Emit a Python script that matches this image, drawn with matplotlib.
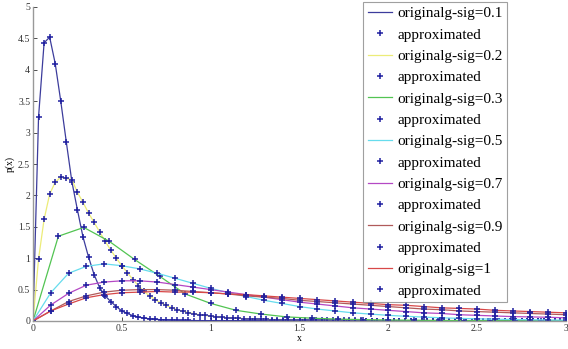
import numpy as np
import matplotlib
matplotlib.use("Agg")
import matplotlib.pyplot as plt

# ---- data ----
x_fine = np.linspace(0, 3, 97)          # grid of sig=0.1 / sig=0.2 curves
sig01 = [0, 3.25, 4.43, 4.52, 4.10, 3.50, 2.85, 2.22, 1.77, 1.34,
         1.02, 0.74, 0.53, 0.40, 0.31, 0.23, 0.16, 0.12, 0.085, 0.062,
         0.046, 0.035, 0.027, 0.021, 0.017, 0.014, 0.011, 0.009, 0.008, 0.007,
         0.006, 0.005, 0.005, 0.004, 0.004, 0.004, 0.004, 0.004, 0.004, 0.004,
         0.004, 0.003, 0.003, 0.003, 0.003, 0.003, 0.003, 0.003, 0.003, 0.003,
         0.003, 0.003, 0.003, 0.003, 0.003, 0.003, 0.003, 0.002, 0.002, 0.002,
         0.002, 0.002, 0.002, 0.002, 0.002, 0.002, 0.002, 0.002, 0.002, 0.002,
         0.002, 0.002, 0.002, 0.001, 0.001, 0.001, 0.001, 0.001, 0.001, 0.001,
         0.001, 0.001, 0.001, 0.001, 0.001, 0.001, 0.001, 0.001, 0.001, 0.001,
         0.001, 0.001, 0.001, 0.001, 0.001, 0.001, 0.001]
sig02 = [0, 0.99, 1.62, 2.02, 2.21, 2.29, 2.27, 2.25, 2.05, 1.89,
         1.72, 1.57, 1.42, 1.27, 1.13, 1.00, 0.88, 0.77, 0.66, 0.56,
         0.47, 0.40, 0.34, 0.29, 0.25, 0.21, 0.18, 0.155, 0.135, 0.115,
         0.100, 0.088, 0.077, 0.068, 0.060, 0.053, 0.047, 0.042, 0.038, 0.034,
         0.031, 0.028, 0.025, 0.023, 0.021, 0.019, 0.018, 0.016, 0.015, 0.014,
         0.013, 0.012, 0.012, 0.011, 0.010, 0.010, 0.009, 0.009, 0.008, 0.008,
         0.007, 0.007, 0.007, 0.006, 0.006, 0.006, 0.006, 0.005, 0.005, 0.005,
         0.005, 0.005, 0.004, 0.004, 0.004, 0.004, 0.004, 0.004, 0.004, 0.003,
         0.003, 0.003, 0.003, 0.003, 0.003, 0.003, 0.003, 0.003, 0.003, 0.002,
         0.002, 0.002, 0.002, 0.002, 0.002, 0.002, 0.002]

x_sig03 = np.linspace(0, 3, 22)         # grid of sig=0.3 curve
sig03 = [0, 1.35, 1.49, 1.27, 0.98, 0.71, 0.43, 0.28, 0.17, 0.11,
         0.065, 0.045, 0.030, 0.022, 0.016, 0.012, 0.009, 0.007, 0.005, 0.004,
         0.003, 0.002]

x_coarse = np.linspace(0, 3, 31)        # grid of sig>=0.5 curves
sig05 = [0, 0.45, 0.76, 0.87, 0.91, 0.88, 0.83, 0.76, 0.68, 0.60,
         0.52, 0.45, 0.39, 0.33, 0.28, 0.23, 0.19, 0.16, 0.13, 0.11,
         0.09, 0.075, 0.062, 0.051, 0.042, 0.035, 0.029, 0.024, 0.020, 0.016,
         0.013]
sig07 = [0, 0.255, 0.44, 0.57, 0.62, 0.64, 0.64, 0.62, 0.58, 0.54,
         0.50, 0.46, 0.42, 0.38, 0.34, 0.30, 0.27, 0.24, 0.21, 0.19,
         0.17, 0.15, 0.13, 0.12, 0.10, 0.09, 0.08, 0.07, 0.065, 0.06,
         0.05]
sig09 = [0, 0.16, 0.31, 0.40, 0.46, 0.49, 0.50, 0.50, 0.49, 0.47,
         0.45, 0.43, 0.40, 0.38, 0.36, 0.33, 0.31, 0.29, 0.27, 0.25,
         0.23, 0.21, 0.19, 0.18, 0.16, 0.15, 0.14, 0.13, 0.12, 0.11,
         0.10]
sig10 = [0, 0.16, 0.27, 0.37, 0.42, 0.45, 0.46, 0.47, 0.46, 0.46,
         0.45, 0.43, 0.42, 0.40, 0.38, 0.36, 0.34, 0.32, 0.30, 0.28,
         0.26, 0.25, 0.23, 0.21, 0.20, 0.19, 0.17, 0.16, 0.15, 0.14,
         0.13]

labels = ["originalg-sig=0.1", "originalg-sig=0.2", "originalg-sig=0.3",
          "originalg-sig=0.5", "originalg-sig=0.7", "originalg-sig=0.9",
          "originalg-sig=1"]
marker_label = "approximated"
x_ticks = [0, 0.5, 1, 1.5, 2, 2.5, 3]
x_ticklabels = ["0", "0.5", "1", "1.5", "2", "2.5", "3"]
y_ticks = [0, 0.5, 1, 1.5, 2, 2.5, 3, 3.5, 4, 4.5, 5]
y_ticklabels = ["0", "0.5", "1", "1.5", "2", "2.5", "3", "3.5", "4", "4.5", "5"]

series = [(x_fine, sig01), (x_fine, sig02), (x_sig03, sig03),
          (x_coarse, sig05), (x_coarse, sig07), (x_coarse, sig09),
          (x_coarse, sig10)]
colors = ["#3c3c9c", "#ecec78", "#52c452", "#66dced", "#b448c4",
          "#b05a5a", "#d84848"]
marker_color = "#2020a0"

# ---- figure ----
plt.rcParams['font.family'] = ['Liberation Serif', 'DejaVu Serif']
fig = plt.figure(figsize=(5.68, 3.49), dpi=100)
ax = fig.add_axes([33/568, 28/349, 533/568, 314/349])

for (xs, ys), lab, c in zip(series, labels, colors):
    ax.plot(xs, ys, color=c, lw=0.9, label=lab)
    ax.plot(xs, ys, ls='none', marker='+', ms=3.8, mew=1.1,
            color=marker_color, label=marker_label)

ax.set_xlim(0, 3)
ax.set_ylim(0, 5)
ax.set_xticks(x_ticks)
ax.set_xticklabels(x_ticklabels)
ax.set_yticks(y_ticks)
ax.set_yticklabels(y_ticklabels)
ax.tick_params(direction='in', length=3, width=0.6, labelsize=7,
               colors='#333333', pad=2)
for s in ['top', 'right']:
    ax.spines[s].set_visible(False)
for s in ['left', 'bottom']:
    ax.spines[s].set_color('#999999')
    ax.spines[s].set_linewidth(1.0)
ax.set_xlabel("x", fontsize=7, labelpad=1)
ax.set_ylabel("p(x)", fontsize=7, labelpad=2)

leg = ax.legend(loc='upper right', bbox_to_anchor=(507/568, 347/349),
                bbox_transform=fig.transFigure, fontsize=11, frameon=True,
                fancybox=False, edgecolor='#888888', handlelength=1.6,
                handletextpad=0.3, labelspacing=0.5, borderpad=0.3,
                borderaxespad=0)
leg.get_frame().set_linewidth(0.8)

fig.savefig("out.png", dpi=100)
